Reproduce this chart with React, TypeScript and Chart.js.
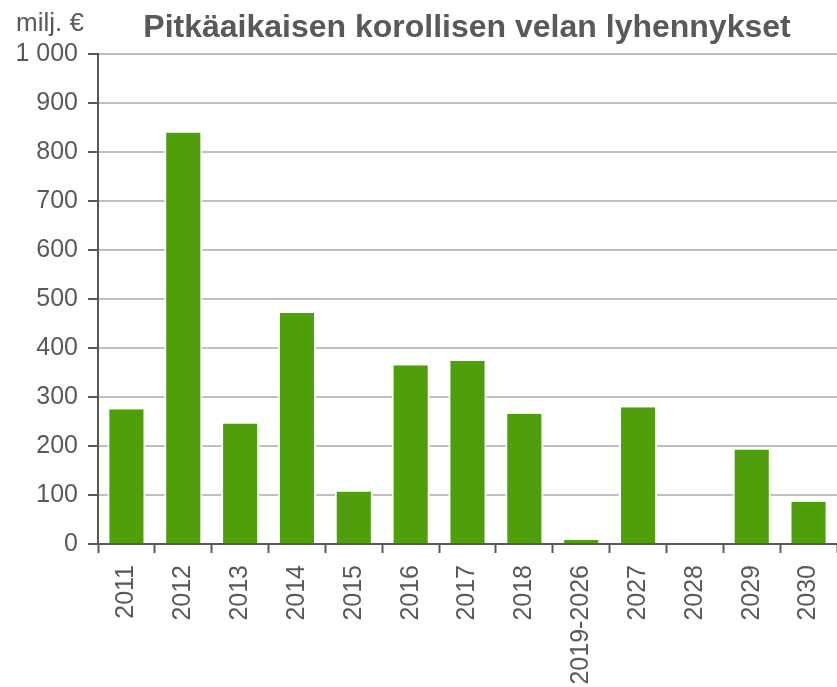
import React, { useEffect, useRef } from "react";
import { Chart, registerables } from "chart.js";

Chart.register(...registerables);

const categories = ["2011", "2012", "2013", "2014", "2015", "2016", "2017", "2018", "2019-2026", "2027", "2028", "2029", "2030"];
const repayments = [275, 840, 246, 472, 107, 365, 374, 266, 8, 279, 0, 193, 86];
const yTicks = [0, 100, 200, 300, 400, 500, 600, 700, 800, 900, 1000];
const titleText = "Pitkäaikaisen korollisen velan lyhennykset";
const unitText = "milj. €";

const TEXT = "#595959";
const FONT = "'Liberation Sans', Arial, sans-serif";

const textPlugin = {
  id: "texts",
  afterDraw(chart: any) {
    const ctx = chart.ctx;
    ctx.save();
    ctx.fillStyle = TEXT;
    ctx.textBaseline = "alphabetic";
    ctx.font = `bold 32px ${FONT}`;
    ctx.textAlign = "center";
    ctx.fillText(titleText, 467, 37);
    ctx.font = `26px ${FONT}`;
    ctx.textAlign = "left";
    ctx.fillText(unitText, 16, 31);
    ctx.restore();
  },
};

export default function App() {
  const ref = useRef<HTMLCanvasElement>(null);
  useEffect(() => {
    document.body.style.margin = "0";
    const chart = new Chart(ref.current!, {
      type: "bar",
      data: {
        labels: categories,
        datasets: [
          {
            data: repayments,
            backgroundColor: "#519e0c",
            borderColor: "rgba(255,255,255,0.95)",
            borderWidth: { left: 2, right: 2, top: 0, bottom: 0 },
            borderSkipped: "start",
            barPercentage: 0.67,
            categoryPercentage: 1,
          },
        ],
      },
      options: {
        animation: false,
        responsive: false,
        maintainAspectRatio: false,
        layout: { padding: { top: 54, left: 0, right: 0, bottom: 0 } },
        plugins: { legend: { display: false }, title: { display: false }, tooltip: { enabled: false } },
        scales: {
          x: {
            type: "category",
            offset: true,
            afterFit: (s: any) => {
              s.height = 143;
              s.paddingLeft = 0;
              s.paddingRight = 0;
            },
            grid: {
              display: true,
              drawOnChartArea: false,
              drawTicks: true,
              tickLength: 9,
              tickColor: TEXT,
              tickWidth: 2,
              offset: true,
            },
            border: { display: true, color: TEXT, width: 2 },
            ticks: {
              minRotation: 90,
              maxRotation: 90,
              autoSkip: false,
              padding: 12,
              color: TEXT,
              font: { family: FONT, size: 25 },
            },
          },
          y: {
            min: 0,
            max: 1000,
            afterFit: (s: any) => {
              s.width = 98;
              s.paddingTop = 0;
              s.paddingBottom = 0;
            },
            afterBuildTicks: (s: any) => {
              s.ticks = yTicks.map((v) => ({ value: v }));
            },
            grid: {
              color: "#c0c0c0",
              lineWidth: 2,
              drawTicks: true,
              tickLength: 10,
              tickColor: TEXT,
              tickWidth: 2,
            },
            border: { display: true, color: TEXT, width: 2 },
            ticks: {
              padding: 10,
              color: TEXT,
              font: { family: FONT, size: 25 },
              callback: (v: any) => (Number(v) >= 1000 ? String(v).replace(/\B(?=(\d{3})+(?!\d))/g, " ") : String(v)),
            },
          },
        },
      },
      plugins: [textPlugin],
    });
    return () => chart.destroy();
  }, []);
  return (
    <div style={{ width: 837, height: 687, background: "#fff" }}>
      <canvas ref={ref} width={837} height={687} style={{ display: "block" }} />
    </div>
  );
}
